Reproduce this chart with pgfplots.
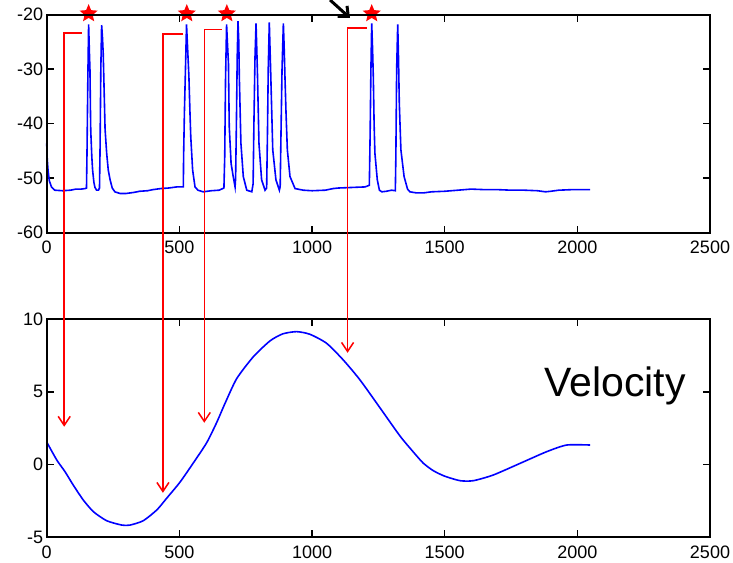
\documentclass[border=0pt]{standalone}
\usepackage{pgfplots}
\pgfplotsset{compat=1.18}
\usepackage{fontspec}
\setmainfont{Liberation Sans}
\usetikzlibrary{arrows.meta}
\definecolor{mblue}{RGB}{0,0,255}
\definecolor{mred}{RGB}{255,0,0}
\pgfdeclareplotmark{fstar}{%
  \pgfpathmoveto{\pgfpointpolar{90}{\pgfplotmarksize}}%
  \pgfpathlineto{\pgfpointpolar{126}{0.45\pgfplotmarksize}}%
  \pgfpathlineto{\pgfpointpolar{162}{\pgfplotmarksize}}%
  \pgfpathlineto{\pgfpointpolar{198}{0.45\pgfplotmarksize}}%
  \pgfpathlineto{\pgfpointpolar{234}{\pgfplotmarksize}}%
  \pgfpathlineto{\pgfpointpolar{270}{0.45\pgfplotmarksize}}%
  \pgfpathlineto{\pgfpointpolar{306}{\pgfplotmarksize}}%
  \pgfpathlineto{\pgfpointpolar{342}{0.45\pgfplotmarksize}}%
  \pgfpathlineto{\pgfpointpolar{18}{\pgfplotmarksize}}%
  \pgfpathlineto{\pgfpointpolar{54}{0.45\pgfplotmarksize}}%
  \pgfpathclose
  \pgfusepathqfill}
\pgfplotsset{
  myax/.style={
    scale only axis, width=663.3bp, anchor=south west,
    xmin=0, xmax=2500, xtick={0,500,...,2500},
    tick align=inside, major tick length=7bp,
    axis line style={line width=1.8bp},
    tick style={black,line width=1.6bp},
    tick label style={font=\fontsize{18bp}{20bp}\selectfont},
    xticklabel style={yshift=-5bp},
    /pgf/number format/assume math mode=true,
    /pgf/number format/set thousands separator={},
    clip=false,
    after end axis/.code={\draw[black,line width=1.9bp] (rel axis cs:0,0) rectangle (rel axis cs:1,1);},
  }
}
\begin{document}
\begin{tikzpicture}
\useasboundingbox (0,0) rectangle (733bp,563bp);
\begin{axis}[myax, at={(46.7bp,330.3bp)}, height=218bp,
  ymin=-60, ymax=-20, ytick={-60,-50,...,-20}]
\addplot[mblue, line width=1.6bp] coordinates {
(0,-43.6)(2,-46.5)(5,-48.5)(10,-50.5)(18,-51.6)(30,-52.2)(60,-52.3)(90,-52.2)(110,-52.0)(130,-52.0)(145,-51.9)(150,-51.8)(152,-45)(155,-32)(158,-21.8)(161,-27)(163,-30)(165,-38)(166,-41.2)(170,-46)(173,-48.5)(178,-50.8)(182,-51.7)(188,-52.2)(195,-52.2)(199,-51.8)(201,-45)(204,-30)(207,-21.9)(210,-24)(213,-27.1)(217,-35)(220,-41)(226,-45.4)(232,-48.5)(239,-50.3)(247,-51.8)(257,-52.5)(276,-52.8)(300,-52.8)(330,-52.6)(350,-52.4)(380,-52.3)(400,-52.1)(430,-51.9)(460,-51.8)(490,-51.6)(515,-51.6)(516,-46)(519,-38)(524,-28)(527,-21.8)(530,-25)(536,-31.4)(540,-38)(543,-42.4)(550,-48.5)(559,-51.6)(570,-52.2)(590,-52.5)(620,-52.3)(650,-52.2)(668,-51.8)(671,-46)(674,-32)(678,-21.8)(681,-25)(685,-28.9)(688,-40.5)(695,-47.3)(703,-49.7)(710,-51.6)(712,-50)(715,-40)(718,-28)(721,-21.2)(724,-25)(726,-31.4)(732,-43.6)(741,-49.7)(754,-52.2)(773,-52.5)(778,-51)(781,-40)(785,-28)(789,-21.6)(791,-25)(794,-30.1)(800,-43.6)(810,-50.3)(823,-52.2)(829,-51.8)(832,-42)(835,-30)(839,-21.4)(841,-25)(844,-30.1)(852,-44.8)(864,-50.3)(877,-52.2)(880,-51.5)(883,-42)(887,-30)(892,-21.6)(895,-26)(898,-31.4)(902,-38)(907,-44.8)(917,-49.7)(936,-51.9)(967,-52.2)(1000,-52.3)(1050,-52.2)(1080,-51.9)(1100,-51.8)(1150,-51.7)(1200,-51.6)(1216,-51.3)(1219,-42)(1222,-30)(1225,-21.6)(1228,-26)(1231,-31.4)(1234,-40)(1237,-45.4)(1246,-50.3)(1254,-52.2)(1263,-52.5)(1280,-52.4)(1300,-52.2)(1314,-52.3)(1316,-46)(1319,-30)(1323,-21.8)(1326,-28)(1329,-36.3)(1335,-44.8)(1347,-49.7)(1360,-52)(1369,-52.5)(1394,-52.7)(1420,-52.7)(1450,-52.5)(1500,-52.4)(1550,-52.2)(1600,-52.0)(1650,-52.1)(1700,-52.1)(1750,-52.2)(1800,-52.2)(1850,-52.3)(1880,-52.5)(1900,-52.4)(1930,-52.2)(1980,-52.1)(2048,-52.1)
};
\addplot[only marks, mark=fstar, mark size=9.5bp, mred] coordinates {(158,-19.8)(528,-19.8)(679,-19.8)(1225,-19.8)};
\coordinate (a1) at (axis cs:132,-23.4);
\coordinate (a2) at (axis cs:515,-23.5);
\coordinate (a3) at (axis cs:660,-22.7);
\coordinate (a4) at (axis cs:1206,-22.4);
\draw[black, line width=3bp, -{Straight Barb[length=8bp,width=14bp]}] (axis cs:1068,-17.3) -- (axis cs:1143,-20.6);
\end{axis}
\begin{axis}[myax, at={(46.7bp,25.7bp)}, height=218.3bp,
  ymin=-5, ymax=10, ytick={-5,0,5,10}]
\addplot[mblue, line width=1.6bp, smooth, tension=0.4] coordinates {
(0,1.55)(38,0.31)(69,-0.49)(100,-1.41)(138,-2.44)(176,-3.24)(226,-3.86)(283,-4.16)(314,-4.16)(364,-3.86)(415,-3.12)(452,-2.32)(502,-1.22)(553,0.12)(603,1.5)(641,2.9)(672,4.2)(716,5.9)(779,7.41)(842,8.5)(890,8.98)(942,9.13)(992,8.95)(1055,8.33)(1118,7.18)(1181,5.81)(1256,3.9)(1332,1.95)(1380,0.9)(1419,0.1)(1457,-0.42)(1500,-0.8)(1558,-1.11)(1608,-1.11)(1683,-0.72)(1784,0.08)(1884,0.88)(1960,1.34)(2048,1.34)
};
\coordinate (b1) at (axis cs:66,2.6);
\coordinate (b2) at (axis cs:438,-1.94);
\coordinate (b3) at (axis cs:594,2.87);
\coordinate (b4) at (axis cs:1134,7.68);
\node[anchor=base, font=\fontsize{41bp}{44bp}\selectfont] at (axis cs:2142,4.66) {Velocity};
\end{axis}
\foreach \i in {1,2,3,4}{
  \draw[mred, line width=1.5bp, -{Straight Barb[length=9bp,width=12bp]}] (a\i) -| (b\i);
}
\end{tikzpicture}
\end{document}
